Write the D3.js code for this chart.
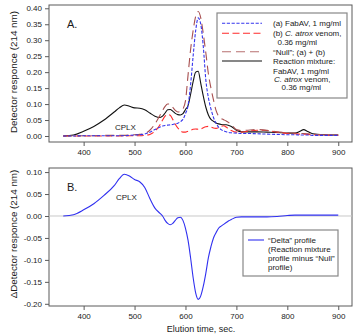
<!DOCTYPE html>
<html><head><meta charset="utf-8">
<script src="https://cdn.jsdelivr.net/npm/d3@7"></script>
<style>body{margin:0;background:#fff}svg{display:block;font-family:"Liberation Sans",Arial,sans-serif}</style>
</head><body><svg id="c" width="356" height="336"></svg>
<script>
const times = [360,380,400,420,440,460,470,480,490,500,510,520,530,540,550,555,560,565,570,575,580,585,590,595,600,605,610,615,620,625,630,635,640,645,650,655,660,665,670,675,680,685,690,700,710,720,740,760,780,800,815,825,832,840,850,870,900];
const fabav = [0,0,.001,.001,.001,.001,.001,.001,.002,.003,.004,.006,.012,.02,.028,.031,.033,.034,.035,.036,.038,.04,.045,.052,.07,.095,.16,.25,.33,.37,.35,.28,.175,.12,.085,.058,.04,.028,.02,.016,.013,.011,.01,.009,.008,.008,.007,.006,.005,.004,.004,.003,.003,.003,.002,.002,.002];
const venom = [0,0,0,0,0,0,0,0,.001,.001,.001,.002,.005,.015,.035,.05,.062,.067,.065,.052,.037,.025,.017,.012,.012,.015,.018,.021,.022,.021,.022,.026,.029,.03,.028,.025,.024,.026,.03,.032,.028,.022,.017,.012,.012,.014,.018,.017,.012,.008,.007,.006,.006,.005,.004,.003,.002];
const nullSum = [0,0,.001,.001,.002,.002,.002,.002,.003,.004,.005,.008,.018,.038,.065,.08,.093,.1,.1,.09,.08,.075,.077,.085,.11,.19,.27,.33,.375,.39,.37,.32,.26,.195,.15,.113,.08,.062,.055,.051,.047,.042,.036,.02,.017,.018,.02,.018,.013,.01,.009,.008,.008,.007,.005,.004,.003];
const mixture = [0,.003,.015,.03,.05,.075,.088,.097,.093,.088,.087,.082,.072,.062,.058,.062,.072,.082,.083,.078,.071,.067,.066,.07,.083,.095,.13,.17,.2,.203,.165,.125,.09,.066,.052,.046,.041,.038,.036,.035,.035,.033,.03,.018,.013,.013,.013,.012,.011,.009,.009,.015,.02,.014,.007,.004,.003];
const delta = [0,.003,.014,.028,.047,.069,.085,.095,.091,.083,.078,.065,.04,.018,.006,0,-.01,-.017,-.02,-.017,-.01,-.004,-.003,-.01,-.028,-.055,-.095,-.14,-.175,-.19,-.182,-.16,-.13,-.095,-.07,-.05,-.038,-.028,-.023,-.019,-.015,-.011,-.008,-.003,-.002,-.002,-.002,-.002,-.001,.001,.002,.002,.002,.002,.002,.002,.002];
const xTicks = [400,500,600,700,800,900];
const yTicksA = [0,0.05,0.1,0.15,0.2,0.25,0.3,0.35,0.4];
const yTicksB = [0.1,0.05,0,-0.05,-0.1,-0.15,-0.2];
const svg = d3.select("#c");
const L=49,R=352;
const x = d3.scaleLinear().domain([332,927]).range([L,R]);
const yA = d3.scaleLinear().domain([-0.0188,0.4103]).range([142,5]);
const yB = d3.scaleLinear().domain([-0.205,0.1093]).range([306,168]);
const fmt = v => d3.format(".2f")(v).replace("\u2212","-");
const frame="#5a5a5a", txt="#1a1a1a";

function panel(y, top, bottom, yt){
  const g = svg.append("g");
  const ya = d3.axisLeft(y).tickValues(yt).tickSize(4).tickFormat(fmt);
  const gy = g.append("g").attr("transform",`translate(${L},0)`).call(ya);
  const xa = d3.axisBottom(x).tickValues(xTicks).tickSize(4).tickFormat(d3.format("d"));
  const gx = g.append("g").attr("transform",`translate(0,${bottom})`).call(xa);
  [gx,gy].forEach(a=>{a.select(".domain").remove();a.selectAll("line").attr("stroke",frame);
    a.selectAll("text").attr("fill",txt).style("font-size","8px").style("font-family","'Liberation Sans',Arial,sans-serif");});
  gx.selectAll("text").attr("dy","0.78em");
  g.append("rect").attr("x",L).attr("y",top).attr("width",R-L).attr("height",bottom-top)
    .attr("fill","none").attr("stroke",frame).attr("stroke-width",1);
}
panel(yA,5,142,yTicksA);
panel(yB,168,306,yTicksB);

svg.append("line").attr("x1",L).attr("x2",R).attr("y1",yB(0)).attr("y2",yB(0)).attr("stroke","#c8c8c8").attr("stroke-width",1);

const mk = (y,vals) => d3.line().x((d,i)=>x(times[i])).y(d=>y(d)).curve(d3.curveMonotoneX)(vals);
const series = [
  {v:mixture, c:"#111", dash:null},
  {v:venom, c:"#ff2a2a", dash:"7,3.5"},
  {v:nullSum, c:"#a85050", dash:"9,5"},
  {v:fabav, c:"#3535ee", dash:"3.2,1.6"},
];
series.forEach(s=>{
  svg.append("path").attr("d",mk(yA,s.v)).attr("fill","none").attr("stroke",s.c)
    .attr("stroke-width",1.1).attr("stroke-dasharray",s.dash);
});
svg.append("path").attr("d",mk(yB,delta)).attr("fill","none").attr("stroke","#3030f0").attr("stroke-width",1.1);

const T=(xx,yy,s,size,anchor)=>svg.append("text").attr("x",xx).attr("y",yy).style("fill",txt)
  .style("font-size",size+"px").attr("text-anchor",anchor||"start").text(s);
T(67,28,"A.",11);
T(67,191,"B.",11);
T(115,129.5,"CPLX",8);
T(116,199.5,"CPLX",8);
T(201,332,"Elution time, sec.",9,"middle");
svg.append("text").attr("transform","translate(17,72) rotate(-90)").attr("text-anchor","middle")
  .style("fill",txt).style("font-size","9.8px").text("Detector responce (214 nm)");
svg.append("text").attr("transform","translate(17,234) rotate(-90)").attr("text-anchor","middle")
  .style("fill",txt).style("font-size","9.8px").text("\u0394Detector responce (214 nm)");

// legend A
svg.append("rect").attr("x",217).attr("y",13).attr("width",130).attr("height",85).attr("fill","#fff").attr("stroke","#888").attr("stroke-width",1.2);
[[23.3,"#3535ee","3.2,1.6"],[33.3,"#ff2a2a","7,3.5"],[51.7,"#b87070","9,5"],[61,"#111",null]].forEach(([yy,c,d])=>{
  svg.append("line").attr("x1",222).attr("x2",262).attr("y1",yy).attr("y2",yy).attr("stroke",c).attr("stroke-width",1.1).attr("stroke-dasharray",d);
});
T(273,26.3,"(a) FabAV, 1 mg/ml",8);
const t2=T(273,36.3,"",8); t2.append("tspan").text("(b) "); t2.append("tspan").style("font-style","italic").text("C. atrox"); t2.append("tspan").text(" venom,");
T(277.5,45.3,"0.36 mg/ml",8);
T(273,54.7,"\u201cNull\u201d; (a) + (b)",8);
T(273,64,"Reaction mixture:",8);
T(273,73.7,"FabAV, 1 mg/ml",8);
const t7=T(274,82,"",8); t7.append("tspan").style("font-style","italic").text("C. atrox"); t7.append("tspan").text(" venom,");
T(281.5,90.3,"0.36 mg/ml",8);

// legend B
svg.append("rect").attr("x",243).attr("y",230).attr("width",95).attr("height",46).attr("fill","#fff").attr("stroke","#888").attr("stroke-width",1.2);
svg.append("line").attr("x1",248).attr("x2",264).attr("y1",240).attr("y2",240).attr("stroke","#3030f0").attr("stroke-width",1.1);
T(268,243,"\u201cDelta\u201d profile",8);
T(268,252,"(Reaction mixture",8);
T(268,261,"profile minus \u201cNull\u201d",8);
T(268,270,"profile)",8);
</script></body></html>
